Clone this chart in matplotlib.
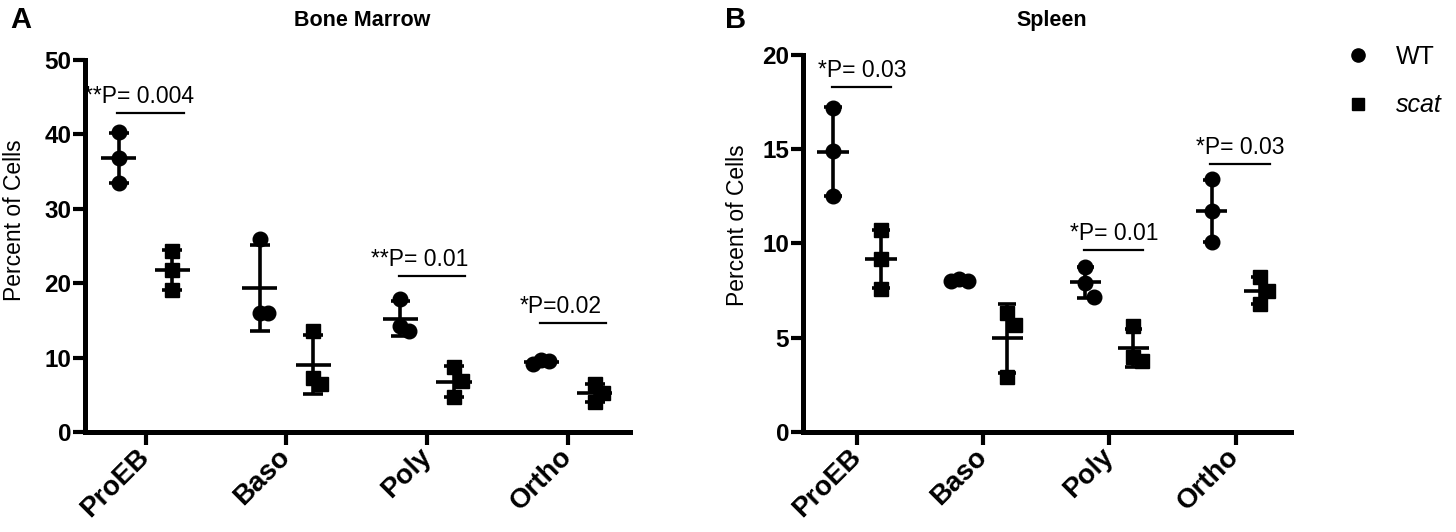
import numpy as np
import matplotlib.pyplot as plt
from matplotlib.lines import Line2D

plt.rcParams['font.family'] = ['Liberation Sans', 'DejaVu Sans']

stages = ['ProEB', 'Baso', 'Poly', 'Ortho']

# bone marrow, percent of cells (3 mice per group)
bm_wt = [[40.3, 36.8, 33.5], [26.0, 16.0, 16.0], [17.9, 14.2, 13.6], [9.7, 9.5, 9.2]]
bm_scat = [[24.4, 21.8, 19.1], [13.6, 7.2, 6.4], [8.8, 6.8, 4.7], [6.4, 5.2, 4.0]]
bm_pvals = ['**P= 0.004', None, '**P= 0.01', '*P=0.02']
bm_sig_y = [42.9, None, 21.0, 14.6]

# spleen
sp_wt = [[17.2, 14.9, 12.5], [8.1, 8.0, 8.0], [8.75, 7.9, 7.15], [13.4, 11.7, 10.1]]
sp_scat = [[10.7, 9.2, 7.6], [6.3, 5.7, 2.9], [5.6, 4.0, 3.75], [8.2, 7.5, 6.8]]
sp_pvals = ['*P= 0.03', None, '*P= 0.01', '*P= 0.03']
sp_sig_y = [18.3, None, 9.65, 14.2]

fig = plt.figure(figsize=(14.56, 5.32), dpi=100)
ax_a = fig.add_axes([0.0584, 0.188, 0.3743, 0.699])
ax_b = fig.add_axes([0.5515, 0.188, 0.3352, 0.7086])

MS = 10.5
D = MS * fig.dpi / 72.0
STEP = D * 0.56


def swarm(ax, x0, vals):
    # simple beeswarm: push overlapping points sideways
    placed = []
    xs = []
    tr = ax.transData
    for v in vals:
        px, py = tr.transform((x0, v))
        for k in [0, 1, -1, 2, -2, 3, -3]:
            cx = px + k * STEP
            ok = True
            for qx, qy in placed:
                if abs(py - qy) < D * 1.02 and abs(cx - qx) < STEP * 0.99:
                    ok = False
                    break
            if ok:
                break
        placed.append((cx, py))
        xs.append(tr.inverted().transform((cx, py))[0])
    return xs


def draw_group(ax, x0, vals, marker):
    m = np.mean(vals)
    sd = np.std(vals, ddof=1)
    xs = swarm(ax, x0, vals)
    ax.plot(xs, vals, ls='none', marker=marker, color='black',
            markersize=MS if marker == 'o' else MS - 0.5, clip_on=False, zorder=3)
    ax.vlines(x0, m - sd, m + sd, color='black', lw=2.6, zorder=4)
    ax.hlines(m, x0 - 0.125, x0 + 0.125, color='black', lw=2.6, zorder=4)
    ax.hlines([m - sd, m + sd], x0 - 0.07, x0 + 0.07, color='black', lw=2.6, zorder=4)


def panel(ax, wt, scat, pvals, sig_y, ymax, step, text_dx):
    ax.set_xlim(-0.43, 3.44)
    ax.set_ylim(0, ymax)
    for s in ['top', 'right']:
        ax.spines[s].set_visible(False)
    for s in ['left', 'bottom']:
        ax.spines[s].set_linewidth(3.6)
        ax.spines[s].set_capstyle('projecting')
    ax.set_yticks(np.arange(0, ymax + 1, step))
    ax.set_xticks(range(len(stages)))
    ax.set_xticklabels(stages, rotation=45, ha='right', va='center',
                       rotation_mode='anchor', fontsize=20, fontweight='bold')
    ax.tick_params(axis='both', width=3, length=9)
    ax.tick_params(axis='y', labelsize=17.5, pad=1)
    ax.tick_params(axis='x', pad=6)
    for t in ax.get_yticklabels():
        t.set_fontweight('bold')

    for i in range(len(stages)):
        draw_group(ax, i - 0.19, wt[i], 'o')
        draw_group(ax, i + 0.19, scat[i], 's')
        if pvals[i] is not None:
            ax.plot([i - 0.2, i + 0.27], [sig_y[i], sig_y[i]], color='black', lw=1.6)
            ax.annotate(pvals[i], (i + text_dx, sig_y[i]), xytext=(0, 12),
                        textcoords='offset points', ha='center', va='center',
                        fontsize=16.5)


panel(ax_a, bm_wt, bm_scat, bm_pvals, bm_sig_y, 50, 10, -0.05)
panel(ax_b, sp_wt, sp_scat, sp_pvals, sp_sig_y, 20, 5, 0.04)

fig.text(15 / 1456, 1 - 220 / 532, 'Percent of Cells', rotation=90,
         ha='center', va='center', fontsize=16.5)
fig.text(738 / 1456, 1 - 225 / 532, 'Percent of Cells', rotation=90,
         ha='center', va='center', fontsize=16.5)

fig.text(0.249, 0.962, 'Bone Marrow', ha='center', va='center',
         fontsize=15.5, fontweight='bold')
fig.text(0.7225, 0.962, 'Spleen', ha='center', va='center',
         fontsize=15.5, fontweight='bold')

fig.text(10 / 1456, 0.962, 'A', ha='left', va='center', fontsize=21, fontweight='bold')
fig.text(725 / 1456, 0.962, 'B', ha='left', va='center', fontsize=21, fontweight='bold')

handles = [Line2D([], [], ls='none', marker='o', color='black', markersize=9.5),
           Line2D([], [], ls='none', marker='s', color='black', markersize=8.5)]
leg = fig.legend(handles, ['WT', 'scat'], loc='upper left',
                 bbox_to_anchor=(1323 / 1456, 1 - 22 / 532), frameon=False,
                 fontsize=18, handlelength=1.0, handletextpad=1.0,
                 labelspacing=1.0)
leg.get_texts()[1].set_fontstyle('italic')

fig.savefig('out.png', dpi=100)
